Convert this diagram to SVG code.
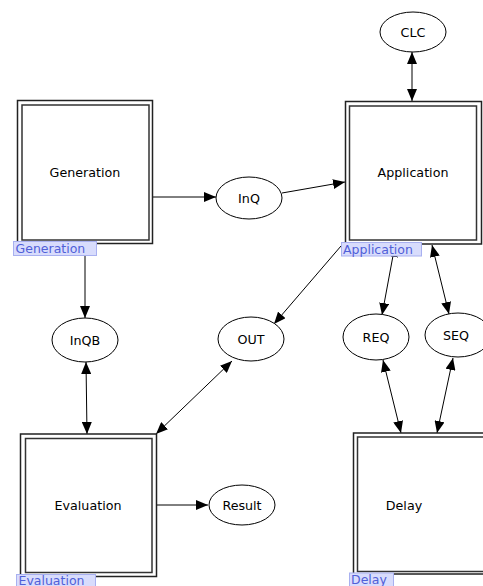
<svg xmlns="http://www.w3.org/2000/svg" width="483" height="586" viewBox="0 0 483 586">
<defs>
<marker id="ah" viewBox="0 0 12 10" refX="12" refY="5" markerWidth="12" markerHeight="10" markerUnits="userSpaceOnUse" orient="auto-start-reverse">
<path d="M0,0 L12,5 L0,10 z" fill="#000"/>
</marker>
<style>
.bo{fill:#fff;stroke:#222;stroke-width:1.5}
.bi{fill:#fff;stroke:#333;stroke-width:1.5}
.el{fill:#fff;stroke:#000;stroke-width:1}
.t{font-family:"DejaVu Sans",Verdana,sans-serif;font-size:12.7px;fill:#000;text-anchor:middle;dominant-baseline:central}
.lb{fill:#d8dcfc;stroke:#a8b0f0;stroke-width:1}
.lt{font-family:"DejaVu Sans",Verdana,sans-serif;font-size:12.5px;fill:#5060d8;dominant-baseline:central}
.c{fill:none;stroke:#000;stroke-width:1}
.e{marker-end:url(#ah)}
.b{marker-start:url(#ah);marker-end:url(#ah)}
</style>
</defs>
<g id="connectors">
<line class="c b" x1="412" y1="52" x2="412" y2="101"/>
<line class="c e" x1="153" y1="197" x2="216" y2="197"/>
<line class="c e" x1="282" y1="193" x2="345" y2="182"/>
<line class="c e" x1="85" y1="256" x2="85" y2="318"/>
<line class="c b" x1="86" y1="362" x2="87" y2="434"/>
<line class="c e" x1="341" y1="246" x2="274" y2="324"/>
<line class="c b" x1="232" y1="361" x2="156" y2="434"/>
<line class="c b" x1="395" y1="245" x2="382" y2="315"/>
<line class="c b" x1="432" y1="245" x2="449" y2="314"/>
<line class="c b" x1="383" y1="360" x2="401" y2="433"/>
<line class="c b" x1="453" y1="358" x2="437" y2="433"/>
<line class="c e" x1="157" y1="505" x2="208" y2="505"/>
</g>
<g id="Generation">
<rect class="bo" x="17.5" y="100.5" width="135" height="143"/>
<rect class="bi" x="22" y="105" width="127" height="135"/>
<text class="t" x="85" y="172">Generation</text>
<rect class="lb" x="13.5" y="241.5" width="83" height="14"/>
<text class="lt" x="15.5" y="248.5">Generation</text>
</g>
<g id="Application">
<rect class="bo" x="345.5" y="101.5" width="136" height="142.5"/>
<rect class="bi" x="349.5" y="106" width="127" height="134"/>
<text class="t" x="413" y="172">Application</text>
<rect class="lb" x="341.5" y="242.5" width="80" height="13.5"/>
<text class="lt" x="343" y="249">Application</text>
</g>
<g id="Evaluation">
<rect class="bo" x="20.5" y="434" width="136" height="142.5"/>
<rect class="bi" x="25.5" y="438.5" width="126.5" height="134"/>
<text class="t" x="88" y="505">Evaluation</text>
<rect class="lb" x="16.5" y="574.5" width="79" height="14"/>
<text class="lt" x="18.5" y="580">Evaluation</text>
</g>
<g id="Delay">
<rect class="bo" x="353.5" y="433" width="136" height="141"/>
<rect class="bi" x="357.5" y="437" width="127" height="134.5"/>
<text class="t" x="404" y="505">Delay</text>
<rect class="lb" x="349.5" y="573" width="44" height="14"/>
<text class="lt" x="351" y="579.5">Delay</text>
</g>
<g id="CLC">
<ellipse class="el" cx="413" cy="32" rx="33" ry="20"/>
<text class="t" x="413" y="32">CLC</text>
</g>
<g id="InQ">
<ellipse class="el" cx="249" cy="198" rx="33" ry="21"/>
<text class="t" x="249" y="198">InQ</text>
</g>
<g id="InQB">
<ellipse class="el" cx="85" cy="340" rx="33" ry="22"/>
<text class="t" x="85" y="340">InQB</text>
</g>
<g id="OUT">
<ellipse class="el" cx="251" cy="339" rx="33" ry="22"/>
<text class="t" x="251" y="339">OUT</text>
</g>
<g id="REQ">
<ellipse class="el" cx="376" cy="337" rx="33" ry="23"/>
<text class="t" x="376" y="337">REQ</text>
</g>
<g id="SEQ">
<ellipse class="el" cx="458" cy="335" rx="33" ry="22"/>
<text class="t" x="456" y="335">SEQ</text>
</g>
<g id="Result">
<ellipse class="el" cx="242" cy="505" rx="33" ry="20"/>
<text class="t" x="242" y="505">Result</text>
</g>
</svg>
